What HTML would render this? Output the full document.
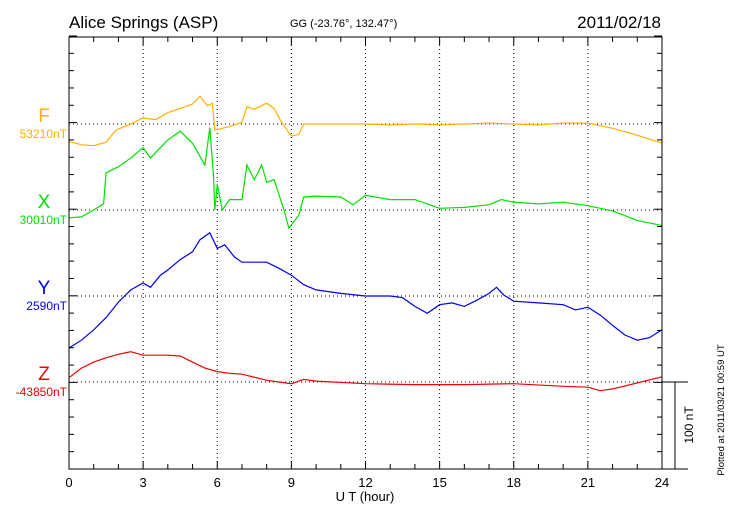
<!DOCTYPE html>
<html><head><meta charset="utf-8"><style>
body{margin:0;background:#fff;}
svg{display:block;font-family:"Liberation Sans",sans-serif;}
</style></head><body>
<svg id="c" width="730" height="520" viewBox="0 0 730 520">
<text x="69" y="28" font-size="17">Alice Springs (ASP)</text>
<text x="290" y="27" font-size="11">GG (-23.76°, 132.47°)</text>
<text x="661" y="28" font-size="17" text-anchor="end">2011/02/18</text>
<g id="grid"></g><g id="series"></g><g id="axes"></g>
<text x="365" y="501" font-size="13" text-anchor="middle">U T (hour)</text>
<text transform="translate(693,425) rotate(-90)" font-size="12" text-anchor="middle">100 nT</text>
<text transform="translate(724,410) rotate(-90)" font-size="9.5" text-anchor="middle">Plotted at 2011/03/21 00:59 UT</text>
</svg>
<script>
const hoursF=[0,0.5,1,1.5,1.9,2.5,3,3.5,4,4.5,5,5.3,5.6,5.8,5.9,6.2,6.5,7,7.2,7.5,8,8.3,8.6,9,9.3,9.5,10,11,12,13,14,15,16,17,18,19,20,21,22,23,24];
const valsF=[-20,-24,-25,-21,-7,0,7,5,13,18,23,32,21,24,-7,-5,-3,2,20,17,24,18,2,-14,-12,0,0,0,0,-1,0,-1,0,1,0,-1,1,1,-5,-13,-22];
const hoursX=[0,0.5,1,1.4,1.5,2,2.5,3,3.3,3.7,4,4.5,5,5.5,5.7,5.85,5.9,6,6.2,6.5,7,7.2,7.5,7.8,8,8.3,8.7,8.9,9.3,9.5,10,11,11.5,12,13,14,15,16,17,17.5,18,19,20,21,22,23,24];
const valsX=[-9,-8,0,7,43,50,60,72,60,72,81,91,77,52,95,40,0,30,0,12,12,52,35,52,32,35,0,-21,-6,15,16,15,6,17,12,12,2,3,6,12,9,7,9,5,-1,-12,-18];
const hoursY=[0,0.5,1,1.5,2,2.5,3,3.3,3.7,4,4.5,5,5.3,5.7,6,6.3,6.7,7,8,8.5,9,9.5,10,11,12,13,13.5,14,14.5,15,15.5,16,16.5,17,17.3,17.6,18,19,20,20.5,21,21.5,22,22.5,23,23.5,24];
const valsY=[-60,-51,-39,-25,-7,7,15,10,24,30,42,51,65,73,55,59,45,39,39,32,24,13,7,3,0,0,-2,-12,-20,-10,-8,-12,-5,3,10,1,-6,-8,-10,-16,-13,-22,-34,-45,-51,-48,-39];
const hoursZ=[0,0.5,1,1.5,2,2.5,3,4,4.5,5,5.5,6,6.5,7,8,9,9.5,10,12,14,16,18,20,21,21.5,22,23,24];
const valsZ=[5,16,23,28,32,35,31,31,30,23,16,12,10,9,2,-2,3,1,-2,-3,-3,-2,-5,-6,-10,-8,-1,6];
const xTicks=["0","3","6","9","12","15","18","21","24"];
const L=69,R=662,T=37,B=469,PXNT=0.866;
const xs=h=>L+h*(R-L)/24;
const ys=(base,v)=>base-v*PXNT;
const NS="http://www.w3.org/2000/svg";
function mk(tag,attrs,parent){const e=document.createElementNS(NS,tag);for(const k in attrs)e.setAttribute(k,attrs[k]);parent.appendChild(e);return e;}
const grid=document.getElementById('grid'),axes=document.getElementById('axes'),ser=document.getElementById('series');
const bases=[124,210,296,382];
for(let i=1;i<8;i++){const g=mk('line',{x1:xs(i*3),x2:xs(i*3),y1:T,y2:B,stroke:'#000','stroke-width':1,'stroke-dasharray':'1,3'},grid);

}
bases.forEach(b=>{const g=mk('line',{x1:L,x2:R,y1:b,y2:b,stroke:'#000','stroke-width':1,'stroke-dasharray':'1,3'},grid);

});
const fr=mk('rect',{x:L,y:T,width:R-L,height:B-T,fill:'none',stroke:'#000','stroke-width':1},axes);


for(let h=0;h<=24;h++){const len=h%3==0?8:5;
mk('line',{x1:xs(h),x2:xs(h),y1:B,y2:B-len,stroke:'#000'},axes);
mk('line',{x1:xs(h),x2:xs(h),y1:T,y2:T+len,stroke:'#000'},axes);}
xTicks.forEach((t,i)=>{const e=mk('text',{x:xs(i*3),y:487,'font-size':13,'text-anchor':'middle'},axes);e.textContent=t;

});
for(let k=0;k<=25;k++){const y=B-k*20*PXNT;if(y<T-1)break;const len=(Math.round((B-y)/PXNT)%100==0)?8:5;
mk('line',{x1:L,x2:L+len,y1:y,y2:y,stroke:'#000'},axes);mk('line',{x1:R,x2:R-len,y1:y,y2:y,stroke:'#000'},axes);}
mk('line',{x1:R,x2:688,y1:382,y2:382,stroke:'#000'},axes);
mk('line',{x1:R,x2:688,y1:B,y2:B,stroke:'#000'},axes);
const sb=mk('line',{x1:675,x2:675,y1:382,y2:B,stroke:'#000'},axes);


const S=[["F","53210nT","#ffb000",hoursF,valsF],["X","30010nT","#00e000",hoursX,valsX],["Y","2590nT","#0000f0",hoursY,valsY],["Z","-43850nT","#f00000",hoursZ,valsZ]];
S.forEach((s,i)=>{const b=bases[i];
const p=mk('polyline',{points:s[3].map((h,j)=>xs(h).toFixed(1)+','+ys(b,s[4][j]).toFixed(1)).join(' '),fill:'none',stroke:s[2],'stroke-width':1.2},ser);


const a=mk('text',{x:44,y:b-2,'font-size':19,'text-anchor':'middle',fill:s[2]},axes);a.textContent=s[0];


const c=mk('text',{x:67,y:b+14,'font-size':12,'text-anchor':'end',fill:s[2]},axes);c.textContent=s[1];

});
</script>
</body></html>
